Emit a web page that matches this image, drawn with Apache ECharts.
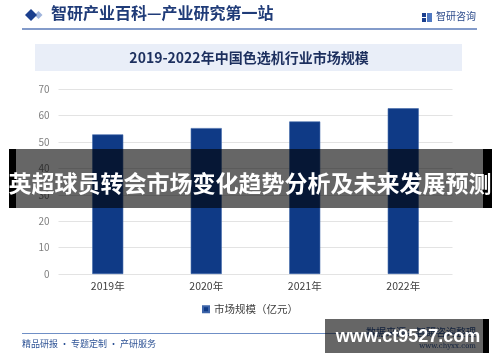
<!DOCTYPE html>
<html>
<head>
<meta charset="utf-8">
<script src="https://cdn.jsdelivr.net/npm/echarts@6/dist/echarts.min.js"></script>
<style>
html,body{margin:0;padding:0;background:#fff;}
#main{width:500px;height:362px;}
</style>
</head>
<body>
<div id="main"></div>
<script>
const categories = ['2019年', '2020年', '2021年', '2022年'];
const marketSize = [52.9, 55.3, 57.8, 62.8];
const seriesName = '市场规模（亿元）';
const headerText = '智研产业百科—产业研究第一站';
const brandText = '智研咨询';
const chartTitle = '2019-2022年中国色选机行业市场规模';
const footerText = '精品研报 · 专题定制 · 产研服务';
const sourceText = '数据来源：智研咨询整理';
const siteText = 'www.chyxx.com';
const overlayText = '英超球员转会市场变化趋势分析及未来发展预测';
const watermarkText = 'www.ct9527.com';

const FONT = '"Noto Sans CJK SC", "Noto Sans", sans-serif';
const chart = echarts.init(document.getElementById('main'), null, {renderer: 'canvas'});

const option = {
  animation: false,
  backgroundColor: '#ffffff',
  textStyle: {fontFamily: FONT},
  grid: {left: 58.5, right: 47.5, top: 89.3, bottom: 88, containLabel: false},
  legend: {
    data: [seriesName],
    left: 'center',
    top: 299,
    itemWidth: 6,
    itemHeight: 6,
    icon: 'rect',
    itemGap: 4,
    textStyle: {fontSize: 10.5, color: '#404040', fontFamily: FONT}
  },
  xAxis: {
    type: 'category',
    data: categories,
    axisLine: {show: false},
    axisTick: {show: false},
    axisLabel: {color: '#404040', fontSize: 10.5, margin: 7, fontFamily: FONT}
  },
  yAxis: {
    type: 'value',
    min: 0, max: 70, interval: 10,
    axisLine: {show: false},
    axisTick: {show: false},
    axisLabel: {color: '#7f7f7f', fontSize: 10, margin: 9, fontFamily: FONT},
    splitLine: {lineStyle: {color: '#e3e3e3', width: 1}}
  },
  series: [{
    name: seriesName,
    type: 'bar',
    data: marketSize,
    barWidth: '31.5%',
    itemStyle: {color: '#0f3a86', borderColor: '#3d64a8', borderWidth: 0.6}
  }],
  graphic: [
    // header
    {type: 'polygon', shape: {points: [[31,9],[37,15],[31,21],[25,15]]}, style: {fill: '#1b3f8e'}, z: 10},
    {type: 'polygon', shape: {points: [[38.5,11],[42.5,15],[38.5,19],[34.5,15]]}, style: {fill: '#9fb4dc'}, z: 9},
    {type: 'text', left: 51, top: 5, style: {text: headerText, fontSize: 16, fontWeight: 'bold', fill: '#1f3b78', fontFamily: FONT}, z: 10},
    {type: 'rect', shape: {x: 422, y: 13, width: 4, height: 4}, style: {fill: '#1b3f8e'}, z: 10},
    {type: 'rect', shape: {x: 427, y: 13, width: 5, height: 9}, style: {fill: '#4f79c2'}, z: 10},
    {type: 'rect', shape: {x: 422, y: 18, width: 4, height: 4}, style: {fill: '#1b3f8e'}, z: 10},
    {type: 'text', left: 436, top: 11, style: {text: brandText, fontSize: 10, fill: '#2b4a8b', fontFamily: FONT}, z: 10},
    {type: 'line', shape: {x1: 22, y1: 29, x2: 477, y2: 29}, style: {stroke: '#5a7ab8', lineWidth: 1.3}, z: 10},
    // title box
    {type: 'rect', shape: {x: 35, y: 44, width: 427, height: 27}, style: {fill: '#e9eef8'}, z: 1},
    {type: 'text', x: 249, y: 58, style: {text: chartTitle, fontSize: 14, fontWeight: 'bold', fill: '#1c2f5e', fontFamily: FONT, textAlign: 'center', textVerticalAlign: 'middle'}, z: 10},
    // footer
    {type: 'line', shape: {x1: 22, y1: 333.5, x2: 476, y2: 333.5}, style: {stroke: '#6f8fc6', lineWidth: 1}, z: 10},
    {type: 'text', left: 22, top: 339, style: {text: footerText, fontSize: 9, fill: '#2f5496', fontFamily: FONT}, z: 10},
    {type: 'text', x: 476, y: 332, style: {text: sourceText, fontSize: 10, fill: '#2f5496', fontFamily: FONT, textAlign: 'right', textVerticalAlign: 'middle'}, z: 10},
    {type: 'text', x: 476, y: 346, style: {text: siteText, fontSize: 7, fill: '#2f5496', fontFamily: 'DejaVu Serif', textAlign: 'right', textVerticalAlign: 'middle'}, z: 10},
    // overlay band: opaque black ends, translucent middle
    {type: 'rect', shape: {x: 9, y: 149, width: 7, height: 59}, style: {fill: '#000000'}, z: 50},
    {type: 'rect', shape: {x: 16, y: 149, width: 467, height: 59}, style: {fill: 'rgba(0,0,0,0.6)'}, z: 50},
    {type: 'rect', shape: {x: 483, y: 149, width: 9, height: 59}, style: {fill: '#000000'}, z: 50},
    {type: 'text', x: 250, y: 183.5, style: {text: overlayText, fontSize: 23, fontWeight: 'bold', fill: '#ffffff', fontFamily: FONT, textAlign: 'center', textVerticalAlign: 'middle'}, z: 60},
    // watermark box
    {type: 'rect', shape: {x: 325, y: 319, width: 158, height: 34}, style: {fill: 'rgba(0,0,0,0.6)'}, z: 50},
    {type: 'rect', shape: {x: 483, y: 319, width: 6, height: 34}, style: {fill: '#000000'}, z: 50},
    {type: 'text', x: 408, y: 337.5, style: {text: watermarkText, fontSize: 18, fontWeight: 'bold', fill: '#ffffff', fontFamily: '"Liberation Sans", Arial, sans-serif', textAlign: 'center', textVerticalAlign: 'middle'}, z: 60}
  ]
};
chart.setOption(option);
</script>
</body>
</html>
